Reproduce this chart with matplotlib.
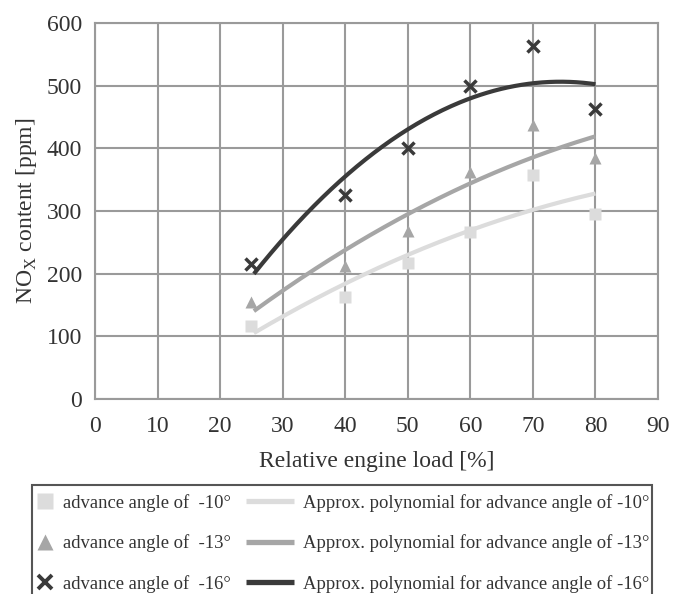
import numpy as np
import matplotlib
matplotlib.use("Agg")
import matplotlib.pyplot as plt
from matplotlib.lines import Line2D
from matplotlib.patches import Rectangle
from matplotlib.legend_handler import HandlerLine2D

plt.rcParams['font.family'] = ['Liberation Serif', 'DejaVu Serif']
plt.rcParams['mathtext.fontset'] = 'custom'
plt.rcParams['mathtext.rm'] = 'Liberation Serif'

load = [25, 40, 50, 60, 70, 80]
nox_10 = [117, 162, 217, 266, 358, 296]
nox_13 = [155, 212, 268, 362, 437, 385]
nox_16 = [215, 325, 400, 500, 563, 463]
series_labels = ['-10°', '-13°', '-16°']
xticks = [0, 10, 20, 30, 40, 50, 60, 70, 80, 90]
yticks = [0, 100, 200, 300, 400, 500, 600]

W, H = 684, 594
fig = plt.figure(figsize=(W / 100, H / 100), dpi=100)
ax = fig.add_axes([95 / W, 1 - 399 / H, 563 / W, 376 / H])

grid_c = '#9a9a9a'
text_c = '#333333'
colors = ['#dcdcdc', '#a6a6a6', '#3a3a3a']
markers = ['s', '^', 'x']
msizes = [9, 8, 8]
data = [nox_10, nox_13, nox_16]

xs = np.linspace(25.4, 80, 200)
handles_m, handles_l = [], []
for y, c, m, ms, lab in zip(data, colors, markers, msizes, series_labels):
    coef = np.polyfit(load, y, 2)
    ax.plot(xs, np.polyval(coef, xs), color=c, lw=3, zorder=3, solid_capstyle='butt')
    if m == 'x':
        ax.plot(load, y, ls='none', marker=m, ms=ms, mew=2.5, color=c, zorder=4)
    else:
        ax.plot(load, y, ls='none', marker=m, ms=ms, color=c, mec='none', zorder=4)
    if m == 'x':
        handles_m.append(Line2D([], [], ls='none', marker=m, ms=10, color=c, mew=2.8))
    else:
        handles_m.append(Line2D([], [], ls='none', marker=m, ms=12 if m == 's' else 11,
                                color=c, mec='none'))
    handles_l.append(Line2D([], [], color=c, lw=3.8, solid_capstyle='butt'))

ax.set_xlim(0, 90)
ax.set_ylim(0, 600)
ax.set_xticks(xticks)
ax.set_yticks(yticks)
ax.grid(True, color=grid_c, lw=1.5)
ax.set_axisbelow(True)
for s in ax.spines.values():
    s.set_color(grid_c)
    s.set_linewidth(1.5)
ax.tick_params(length=0, labelsize=17, colors=text_c)
ax.tick_params(axis='y', pad=9.5)
ax.tick_params(axis='x', pad=12.5)
ax.set_xlabel('Relative engine load [%]', fontsize=17, labelpad=10, color=text_c)
ax.set_ylabel(r'NO$_\mathrm{X}$ content [ppm]', fontsize=17, labelpad=5, color=text_c)


class MarkerRightHandler(HandlerLine2D):
    """Place the single marker near the right end of the handle box."""
    def get_xdata(self, legend, xdescent, ydescent, width, height, fontsize):
        xd = np.array([0.62 * width - xdescent, width - xdescent])
        return xd, np.array([0.81 * width - xdescent])


hmap = {h: MarkerRightHandler(numpoints=1) for h in handles_m}
labels_m = ['advance angle of  ' + s for s in series_labels]
labels_l = ['Approx. polynomial for advance angle of ' + s for s in series_labels]
leg = fig.legend(handles_m + handles_l, labels_m + labels_l, ncol=2,
                 loc='upper left', bbox_to_anchor=(6 / W, 1 - 494 / H),
                 fontsize=13.4, frameon=False, handler_map=hmap,
                 handlelength=2.58, handletextpad=0.48, columnspacing=0.8,
                 labelspacing=1.21, borderpad=0, borderaxespad=0)
for t in leg.get_texts():
    t.set_color(text_c)

fig.add_artist(Rectangle((32 / W, -0.05), 620 / W, 1.05 - 485 / H,
                         transform=fig.transFigure, fill=False,
                         edgecolor='#555555', lw=1.5))

fig.savefig('out.png', dpi=100)
